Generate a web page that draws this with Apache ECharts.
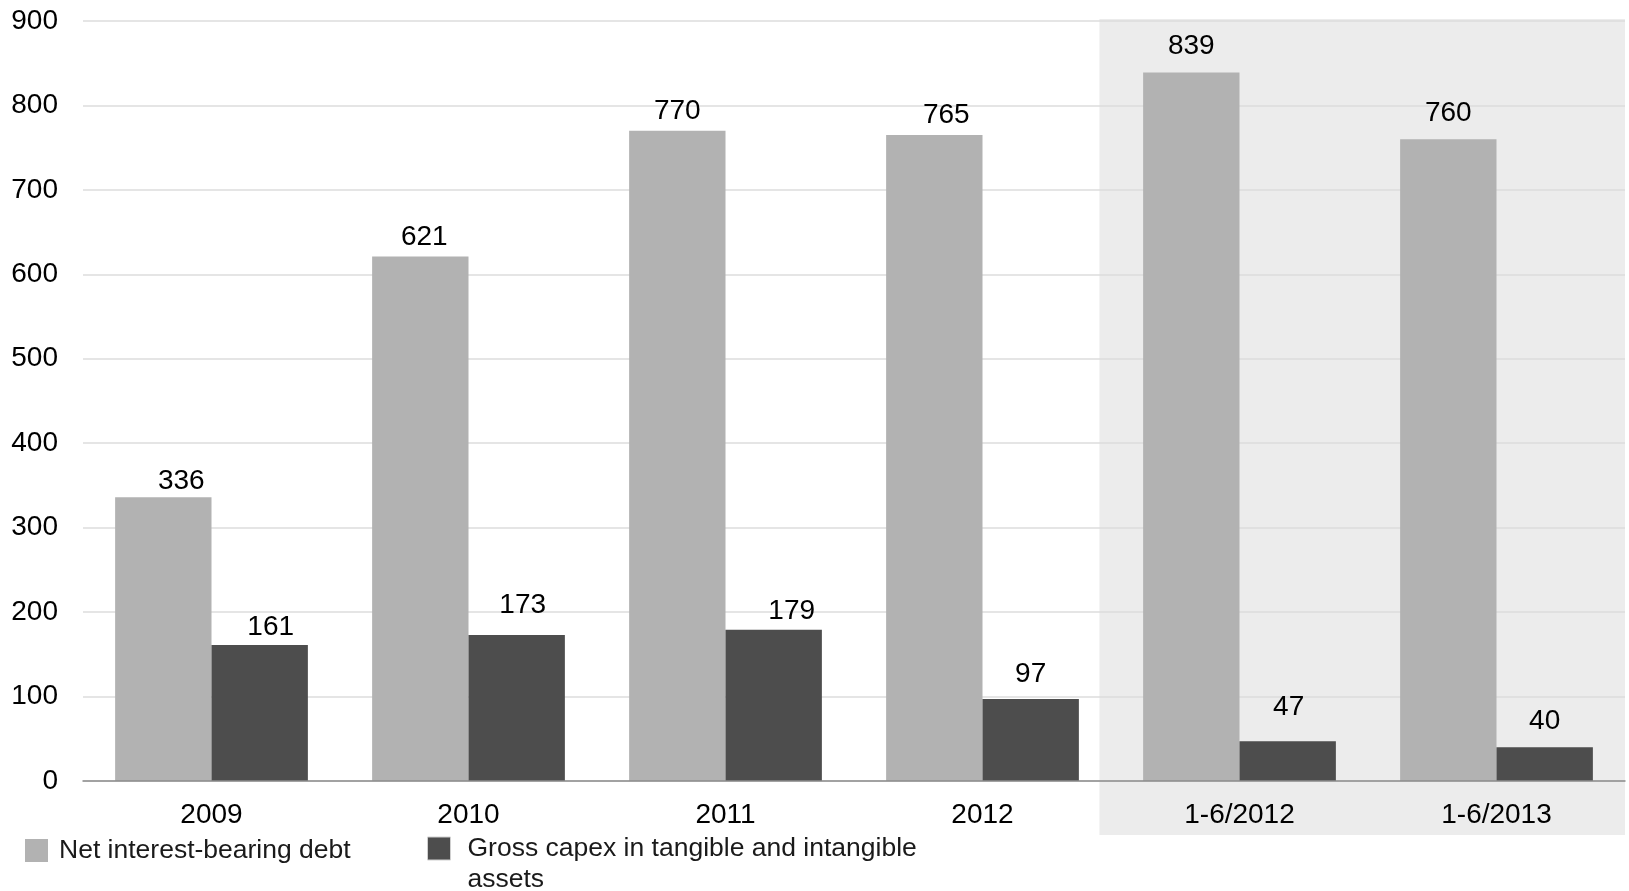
<!DOCTYPE html>
<html>
<head>
<meta charset="utf-8">
<script src="https://cdn.jsdelivr.net/npm/echarts@6/dist/echarts.min.js"></script>
<style>
  html, body { margin: 0; padding: 0; background: #fff; }
  #chart { width: 1629px; height: 891px; }
</style>
</head>
<body>
<div id="chart"></div>
<script>
// Periods on the x axis
const categories = ['2009', '2010', '2011', '2012', '1-6/2012', '1-6/2013'];
// Net interest-bearing debt
const netDebt = [336, 621, 770, 765, 839, 760];
// Gross capex in tangible and intangible assets
const grossCapex = [161, 173, 179, 97, 47, 40];
// Half-year periods that get a shaded background
const shadedPeriods = ['1-6/2012', '1-6/2013'];

// Hand-placed value labels: [shift right, lift up] in pixels
const netDebtLabelNudge = [[18, -1], [4, 2], [0, 2], [12, 3], [0, 9], [0, 9]];
const grossCapexLabelNudge = [[11, 1], [6, 13], [18, 2], [0, 8], [1, 17], [0, 9]];

const FONT = '"Liberation Sans", Arial, sans-serif';
const chart = echarts.init(document.getElementById('chart'), null, { renderer: 'canvas' });

const labelStyle = {
  show: true,
  position: 'top',
  distance: 3,
  color: '#000',
  fontSize: 28,
  fontFamily: FONT
};

function withNudges(values, nudges) {
  return values.map((v, i) => ({
    value: v,
    label: { offset: [nudges[i][0], -nudges[i][1]] }
  }));
}

chart.setOption({
  animation: false,
  backgroundColor: '#fff',
  grid: { left: 83, right: 4, top: 21, bottom: 110, containLabel: false },
  xAxis: {
    type: 'category',
    data: categories,
    axisLine: { lineStyle: { color: '#8c8c8c', width: 1.5 } },
    axisTick: { show: false },
    axisLabel: { color: '#000', fontSize: 28, fontFamily: FONT, margin: 20 },
    z: 5
  },
  yAxis: {
    type: 'value',
    min: 0,
    max: 900,
    interval: 100,
    axisLine: { show: false },
    axisTick: { show: false },
    axisLabel: { color: '#000', fontSize: 28, fontFamily: FONT, margin: 25 },
    splitLine: { lineStyle: { color: '#dcdcdc', width: 1.5 } }
  },
  legend: [
    {
      data: ['Net interest-bearing debt'],
      left: 25, top: 837, padding: 0,
      icon: 'rect', itemWidth: 23, itemHeight: 23, itemGap: 0,
      textStyle: { color: '#1a1a1a', fontSize: 26.5, fontFamily: FONT, padding: [0, 0, 0, 6] }
    },
    {
      data: ['Gross capex in tangible and intangible assets'],
      left: 427, top: 802, padding: 0,
      icon: 'rect', itemWidth: 23, itemHeight: 23, itemGap: 0,
      itemStyle: { borderColor: '#d0d0d0', borderWidth: 1 },
      // leading empty line keeps the first text line level with the swatch
      formatter: () => '\nGross capex in tangible and intangible\nassets',
      textStyle: {
        color: '#1a1a1a', fontSize: 26.5, fontFamily: FONT,
        lineHeight: 31,
        padding: [0, 0, 0, 12]
      }
    }
  ],
  series: [
    {
      name: 'Net interest-bearing debt',
      type: 'bar',
      data: withNudges(netDebt, netDebtLabelNudge),
      barGap: '0%',
      barCategoryGap: '25%',
      itemStyle: { color: '#b2b2b2' },
      label: labelStyle
    },
    {
      name: 'Gross capex in tangible and intangible assets',
      type: 'bar',
      data: withNudges(grossCapex, grossCapexLabelNudge),
      itemStyle: { color: '#4d4d4d' },
      label: labelStyle
    }
  ]
});

// Shaded background behind the half-year periods, reaching below the axis labels
function drawBand() {
  const first = chart.convertToPixel({ xAxisIndex: 0 }, shadedPeriods[0]);
  const second = chart.convertToPixel({ xAxisIndex: 0 }, shadedPeriods[1]);
  const step = second - first;
  const x0 = first - step * 0.545;
  const x1 = second + step * 0.5;
  const yTop = chart.convertToPixel({ yAxisIndex: 0 }, 900) - 2;
  chart.setOption({
    graphic: [{
      type: 'rect',
      z: -10,
      silent: true,
      shape: { x: x0, y: yTop, width: x1 - x0, height: 835 - yTop },
      style: { fill: '#ececec' }
    }]
  });
}
drawBand();
</script>
</body>
</html>
